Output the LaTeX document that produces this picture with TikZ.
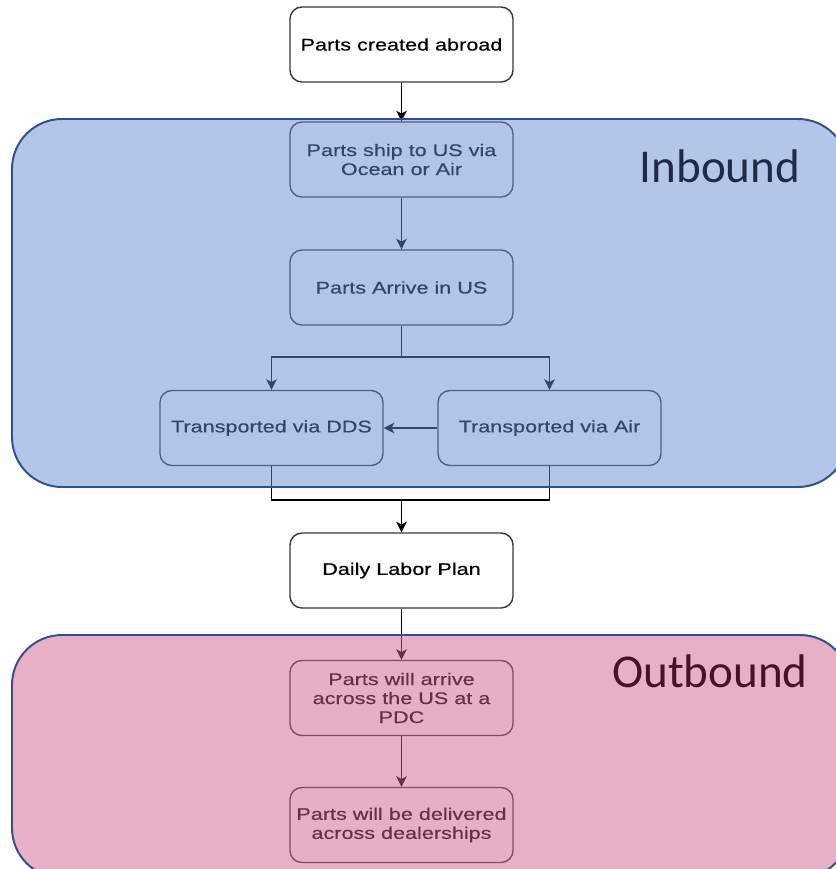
\documentclass[tikz,border=0pt]{standalone}
\usepackage{fontspec}
\setmainfont[FakeStretch=1.28,FakeBold=0.5]{Liberation Sans}
\newfontfamily\zonefont{Carlito}
\usepackage{tikz}
\usetikzlibrary{positioning}
\usetikzlibrary{arrows.meta}
\usepackage{xcolor}
\definecolor{boxline}{RGB}{55,55,55}
\definecolor{inbfill}{RGB}{103,141,207}
\definecolor{outfill}{RGB}{209,97,141}
\definecolor{zoneline}{RGB}{46,80,144}
\definecolor{inbtext}{RGB}{30,42,70}
\definecolor{outtext}{RGB}{70,18,40}

\begin{document}
\begin{tikzpicture}[x=0.025cm,y=-0.025cm,
    stepbox/.style={draw=boxline, line width=1pt, fill=white, rounded corners=0.3cm,
        minimum width=5.575cm, minimum height=1.875cm, align=center,
        font=\fontsize{12}{13.5}\selectfont},
    arr/.style={-{Stealth[length=7.5pt,width=7.5pt,inset=2pt]}, line width=1.2pt, black},
    link/.style={line width=1.2pt, black},
    zone/.style={rounded corners=1.25cm}]
\useasboundingbox (0,0) rectangle (836,869);
\clip (0,0) rectangle (836,869);

% steps
\node[stepbox] (abroad) at (401.5,44.5) {Parts created abroad};
\node[stepbox] (ship) at (401.5,159.5) {Parts ship to US via\\Ocean or Air};
\node[stepbox] (arrive) at (401.5,287.5) {Parts Arrive in US};
\node[stepbox] (dds) at (271.5,428) {Transported via DDS};
\node[stepbox] (air) at (549.5,428) {Transported via Air};
\node[stepbox] (daily) at (401.5,570.5) {Daily Labor Plan};
\node[stepbox] (pdc) at (401.5,698) {Parts will arrive\\across the US at a\\PDC};
\node[stepbox] (dealer) at (401.5,825) {Parts will be delivered\\across dealerships};

\coordinate (split) at (401.5,357);
\coordinate (merge) at (401.5,500);

% connectors
\draw[arr] (abroad) -- (ship);
\draw[arr] (ship) -- (arrive);
\draw[link] (arrive) -- (split);
\draw[arr] (split) -| (dds);
\draw[arr] (split) -| (air);
\draw[arr] (air) -- (dds);
\draw[link] (dds.south) |- (merge) -| (air.south);
\draw[arr] (merge) -- (daily);
\draw[arr] (daily) -- (pdc);
\draw[arr] (pdc) -- (dealer);

% zones
\fill[zone, inbfill, opacity=0.5] (12,119) rectangle (848,487);
\draw[zone, zoneline, line width=1.4pt] (12,119) rectangle (848,487);
\fill[zone, outfill, opacity=0.5] (12,635) rectangle (850,878);
\draw[zone, zoneline, line width=1.4pt] (12,635) rectangle (850,878);

\node[inbtext, font=\zonefont\fontsize{33.5}{40}\selectfont] (inblabel) at (720,166) {Inbound};
\node[outtext, font=\zonefont\fontsize{33.5}{40}\selectfont] (outlabel) at (710,671) {Outbound};

\end{tikzpicture}
\end{document}
